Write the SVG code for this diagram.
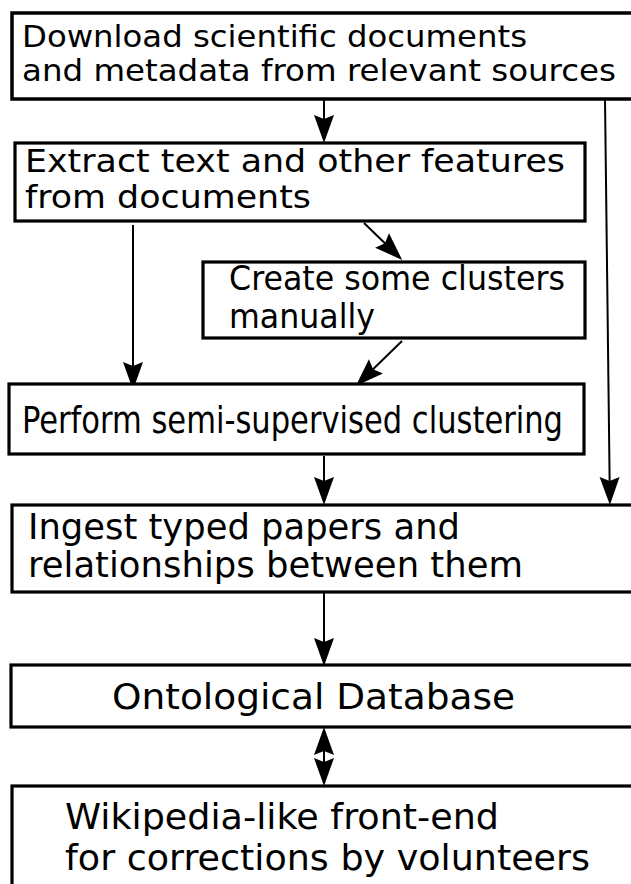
<svg xmlns="http://www.w3.org/2000/svg" width="631" height="884" viewBox="0 0 631 884">
<defs>
<style>
.box{fill:#fff;stroke:#000;stroke-width:3.2}
.con{fill:none;stroke:#000;stroke-width:2}
.t{font-family:"DejaVu Sans","Liberation Sans",sans-serif;fill:#000}
.c{font-family:"DejaVu Sans Condensed","DejaVu Sans","Liberation Sans",sans-serif;font-stretch:condensed;fill:#000}
</style>
<marker id="ah" viewBox="-29 -11 30 22" refX="-10" refY="0" markerWidth="30" markerHeight="22" markerUnits="userSpaceOnUse" orient="auto-start-reverse">
<path d="M0,0 L-28,-10 L-24,0 L-28,10 Z" fill="#000"/>
</marker>
</defs>
<rect width="631" height="884" fill="#fff"/>
<g id="connectors">
<line class="con" x1="324" y1="100" x2="324" y2="133" marker-end="url(#ah)"/>
<line class="con" x1="605" y1="99" x2="609.8" y2="495" marker-end="url(#ah)"/>
<line class="con" x1="364" y1="223" x2="395" y2="253" marker-end="url(#ah)"/>
<line class="con" x1="133" y1="225" x2="133" y2="380" marker-end="url(#ah)"/>
<line class="con" x1="402" y1="341" x2="363" y2="379" marker-end="url(#ah)"/>
<line class="con" x1="324" y1="456" x2="324" y2="495" marker-end="url(#ah)"/>
<line class="con" x1="324" y1="593" x2="324" y2="656" marker-end="url(#ah)"/>
<line class="con" x1="324" y1="737" x2="324" y2="776" marker-start="url(#ah)" marker-end="url(#ah)"/>
</g>
<g id="download">
<rect class="box" x="12" y="13" width="640" height="86" style="stroke-width:3.5"/>
<text class="t" font-size="31" x="22" y="47" textLength="505" lengthAdjust="spacingAndGlyphs">Download scientific documents</text>
<text class="t" font-size="31" x="22" y="81" textLength="594" lengthAdjust="spacingAndGlyphs">and metadata from relevant sources</text>
</g>
<g id="extract">
<rect class="box" x="15" y="143" width="570" height="78"/>
<text class="t" font-size="32.5" x="25" y="172" textLength="540" lengthAdjust="spacingAndGlyphs">Extract text and other features</text>
<text class="t" font-size="32.5" x="25" y="208" textLength="286" lengthAdjust="spacingAndGlyphs">from documents</text>
</g>
<g id="create">
<rect class="box" x="203" y="262" width="382" height="76"/>
<text class="c" font-size="33" x="229" y="290" textLength="336" lengthAdjust="spacingAndGlyphs">Create some clusters</text>
<text class="c" font-size="33" x="229" y="328" textLength="146" lengthAdjust="spacingAndGlyphs">manually</text>
</g>
<g id="perform">
<rect class="box" x="9" y="384" width="575" height="70"/>
<text class="c" font-size="38" x="22" y="433" textLength="541" lengthAdjust="spacingAndGlyphs">Perform semi-supervised clustering</text>
</g>
<g id="ingest">
<rect class="box" x="12" y="505" width="640" height="87"/>
<text class="t" font-size="35" x="28" y="539" textLength="432" lengthAdjust="spacingAndGlyphs">Ingest typed papers and</text>
<text class="t" font-size="35" x="28" y="577" textLength="495" lengthAdjust="spacingAndGlyphs">relationships between them</text>
</g>
<g id="ontological">
<rect class="box" x="11" y="665" width="640" height="62"/>
<text class="t" font-size="36" x="112" y="709" textLength="403" lengthAdjust="spacingAndGlyphs">Ontological Database</text>
</g>
<g id="wikipedia">
<rect class="box" x="12" y="786" width="640" height="110"/>
<text class="t" font-size="36" x="65" y="829" textLength="434" lengthAdjust="spacingAndGlyphs">Wikipedia-like front-end</text>
<text class="t" font-size="36" x="65" y="870" textLength="525" lengthAdjust="spacingAndGlyphs">for corrections by volunteers</text>
</g>
</svg>
